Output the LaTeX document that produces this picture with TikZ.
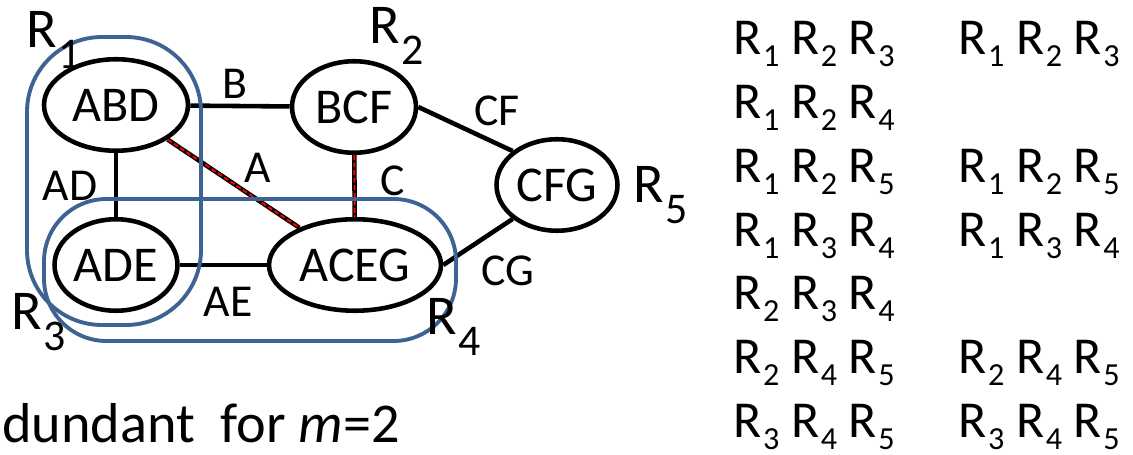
\documentclass[tikz,border=0pt]{standalone}
\usepackage{fontspec}
\usepackage{graphicx}
\setmainfont{Carlito}
\usetikzlibrary{shapes.geometric}

\definecolor{regionblue}{RGB}{62,98,145}
\definecolor{sepred}{RGB}{255,0,0}

% R with a lowered index: small one for the list, larger one in the graph
\newcommand{\Rs}[1]{R\kern0.03em\raisebox{-0.23em}{\scalebox{0.62}{#1}}}
\newcommand{\Rn}[1]{R\kern0.02em\raisebox{-0.36em}{\scalebox{0.78}{#1}}}
\newcommand{\Rtriple}[3]{\Rs{#1}\ \Rs{#2}\ \Rs{#3}}

\begin{document}
\begin{tikzpicture}[x=0.02cm, y=-0.02cm,
    clique/.style={ellipse, draw, line width=2.6pt, inner sep=0pt,
      minimum height=1.83cm, font=\fontsize{28.5}{34}\selectfont},
    sep/.style={line width=2.6pt},
    sepmark/.style={sepred, line width=1.1pt, dash pattern=on 2.8pt off 1.5pt},
    elabel/.style={inner sep=0pt, font=\fontsize{26}{31}\selectfont},
    rlabel/.style={anchor=base west, inner sep=0pt, font=\fontsize{29.5}{35}\selectfont},
    glabel/.style={rlabel, font=\fontsize{32}{38}\selectfont},
    group/.style={regionblue, line width=2.2pt}]
    \useasboundingbox (0,0) rectangle (1133,455);

    \node[clique, minimum width=2.88cm] (ABD) at (116,105) {ABD};
    \node[clique, minimum width=2.48cm] (BCF) at (354,107) {BCF};
    \node[clique, minimum width=2.46cm] (ADE) at (116,265) {ADE};
    \node[clique, minimum width=3.44cm] (ACEG) at (355,265) {ACEG};
    \node[clique, minimum width=2.42cm] (CFG) at (557,185) {CFG};

    \draw[sep] (ABD) -- (BCF);
    \draw[sep] (ABD) -- (ADE);
    \draw[sep] (ADE) -- (ACEG);
    \draw[sep] (BCF.east) -- (CFG.north west);
    \draw[sep] (ACEG.east) -- (CFG.south west);

    \draw[sep] (ABD) -- (ACEG);
    \draw[sepmark] (ABD) -- (ACEG);
    \draw[sep] (BCF) -- (ACEG);
    \draw[sepmark] (BCF) -- (ACEG);

    \node[elabel] (B) at (235,84) {B};
    \node[elabel] (AD) at (70,186) {AD};
    \node[elabel] (A) at (258,168) {A};
    \node[elabel] (C) at (393,181) {C};
    \node[elabel] (AE) at (228,302) {AE};
    \node[elabel] (CF) at (497,111) {CF};
    \node[elabel] (CG) at (508,271) {CG};

    \draw[group, rounded corners=1.5cm] (27,37) rectangle (201,325);
    \draw[group, rounded corners=1.25cm] (44,199) rectangle (456,341);

    \node[glabel] (R1) at (26,48) {\Rn{1}};
    \node[glabel] (R2) at (369,44) {\Rn{2}};
    \node[glabel] (R3) at (11,330) {\Rn{3}};
    \node[glabel] (R4) at (426,335) {\Rn{4}};
    \node[glabel] (R5) at (633,203) {\Rn{5}};

    \foreach \a/\b/\c [count=\i] in {1/2/3, 1/2/4, 1/2/5, 1/3/4, 2/3/4, 2/4/5, 3/4/5}
      \node[rlabel] (left\i) at (733,{55+63.7*(\i-1)}) {\Rtriple{\a}{\b}{\c}};
    \foreach \row/\a/\b/\c in {1/1/2/3, 3/1/2/5, 4/1/3/4, 6/2/4/5, 7/3/4/5}
      \node[rlabel] (right\row) at (958,{55+63.7*(\row-1)}) {\Rtriple{\a}{\b}{\c}};

    \node[rlabel, font=\fontsize{32}{38}\selectfont] (note) at (2,443) {dundant\ \ for \textit{m}=2};
\end{tikzpicture}
\end{document}
